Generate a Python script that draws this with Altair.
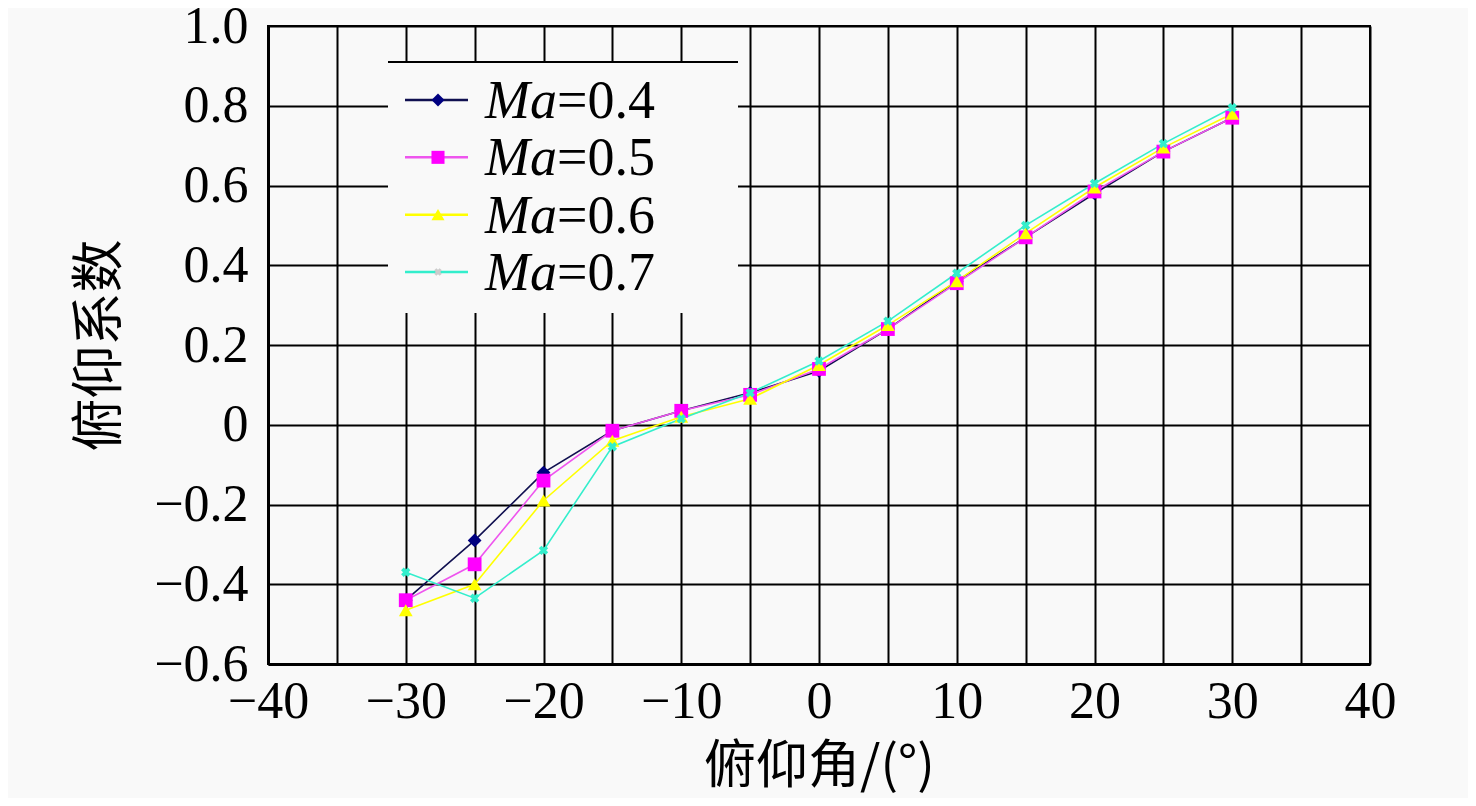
#!/usr/bin/env python3
"""Pitch coefficient vs pitch angle for four Mach numbers."""
import altair as alt
import pandas as pd

OUTPUT_FILE = 'out.html'
SERIF = 'Liberation Serif'
CJK = 'Noto Sans CJK SC'
BG = '#f9f9f9'

angles = [-30, -25, -20, -15, -10, -5, 0, 5, 10, 15, 20, 25, 30]
series = ['0.4', '0.5', '0.6', '0.7']
values = {
    '0.4': [-0.44, -0.29, -0.12, -0.015, 0.035, 0.08, 0.135, 0.24, 0.36, 0.47, 0.58, 0.685, 0.77],
    '0.5': [-0.44, -0.35, -0.14, -0.015, 0.035, 0.075, 0.14, 0.24, 0.355, 0.47, 0.585, 0.685, 0.77],
    '0.6': [-0.465, -0.40, -0.19, -0.04, 0.02, 0.065, 0.15, 0.25, 0.36, 0.48, 0.595, 0.695, 0.78],
    '0.7': [-0.37, -0.435, -0.315, -0.055, 0.015, 0.08, 0.16, 0.26, 0.38, 0.50, 0.605, 0.705, 0.795],
}
line_colors = ['#101050', '#ee55ee', '#ffff00', '#33eecc']
marker_colors = ['#000080', '#ff00ff', '#ffff00', '#33eecc']
marker_shapes = ['diamond', 'square', 'triangle-up', 'cross']

x_ticks = list(range(-40, 41, 5))
y_ticks = [-0.6, -0.4, -0.2, 0.0, 0.2, 0.4, 0.6, 0.8, 1.0]

df = pd.DataFrame([
    {'angle': a, 'coef': v, 'series': s}
    for s in series for a, v in zip(angles, values[s])
])
legend_df = pd.DataFrame({'series': series, 'label': ['=' + s for s in series]})

x_enc = alt.X(
    'angle:Q',
    scale=alt.Scale(domain=[-40, 40], nice=False),
    axis=alt.Axis(
        values=x_ticks, ticks=False, grid=True,
        labelExpr="datum.value % 10 === 0 ? replace(format(datum.value, 'd'), '-', '\u2212') : ''",
        labelFont=SERIF, labelFontSize=52, labelColor='black', labelPadding=12,
        labelFlush=False, labelOverlap=False,
        domainColor='black', domainWidth=3,
        gridColor='black', gridWidth=2,
        title='俯仰角/(°)', titleFont=CJK, titleFontSize=52, titleFontWeight='normal',
        titleColor='black', titleBaseline='middle', titleY=102,
    ),
)
y_enc = alt.Y(
    'coef:Q',
    scale=alt.Scale(domain=[-0.6, 1.0], nice=False, zero=False),
    axis=alt.Axis(
        values=y_ticks, ticks=False, grid=True,
        labelExpr="abs(datum.value) < 1e-9 ? '0' : replace(format(datum.value, '.1f'), '-', '\u2212')",
        labelFont=SERIF, labelFontSize=52, labelColor='black', labelPadding=20,
        labelFlush=False, labelOverlap=False, labelBaseline='middle',
        domainColor='black', domainWidth=3,
        gridColor='black', gridWidth=2,
        title='俯仰系数', titleFont=CJK, titleFontSize=53, titleFontWeight='normal',
        titleColor='black', titleBaseline='middle', titleX=-168, titleY=319,
    ),
)

base = alt.Chart(df)

lines = base.mark_line(strokeWidth=1.6).encode(
    x=x_enc, y=y_enc,
    stroke=alt.Stroke('series:N', scale=alt.Scale(domain=series, range=line_colors), legend=None),
    order='angle:Q',
)

points = base.transform_filter(alt.datum.series != '0.7').mark_point(
    filled=True, opacity=1, size=190
).encode(
    x='angle:Q', y='coef:Q',
    fill=alt.Fill('series:N', scale=alt.Scale(domain=series, range=marker_colors), legend=None),
    shape=alt.Shape('series:N', scale=alt.Scale(domain=series, range=marker_shapes), legend=None),
)

crosses = base.transform_filter(alt.datum.series == '0.7').mark_point(
    shape='cross', angle=45, filled=True, opacity=1, size=90, color='#33eecc'
).encode(x='angle:Q', y='coef:Q')

data_layer = alt.layer(lines, points, crosses)

# legend box drawn inside the plot
one = pd.DataFrame({'k': [0]})
legend_box = alt.Chart(one).mark_rect(fill=BG).encode(
    x=alt.value(120), x2=alt.value(470), y=alt.value(36), y2=alt.value(287)
)
legend_top = alt.Chart(one).mark_rule(color='black', strokeWidth=2).encode(
    x=alt.value(120), x2=alt.value(470), y=alt.value(36)
)

leg_y = alt.Y('series:N', scale=alt.Scale(type='point', domain=series, range=[74, 246], padding=0), axis=None)
leg = alt.Chart(legend_df)
leg_lines = leg.mark_rule(strokeWidth=2.5).encode(
    x=alt.value(137), x2=alt.value(200), y=leg_y,
    stroke=alt.Stroke('series:N', scale=alt.Scale(domain=series, range=line_colors), legend=None),
)
leg_points = leg.transform_filter(alt.datum.series != '0.7').mark_point(
    filled=True, opacity=1, size=170
).encode(
    x=alt.value(170), y=leg_y,
    fill=alt.Fill('series:N', scale=alt.Scale(domain=series, range=marker_colors), legend=None),
    shape=alt.Shape('series:N', scale=alt.Scale(domain=series, range=marker_shapes), legend=None),
)
leg_cross = leg.transform_filter(alt.datum.series == '0.7').mark_point(
    shape='cross', angle=45, filled=True, opacity=1, size=60, color='#cccccc'
).encode(x=alt.value(170), y=leg_y)
leg_ma = leg.mark_text(
    text='Ma', font=SERIF, fontSize=54, fontStyle='italic', align='right', baseline='middle',
    color='black', dy=2
).encode(x=alt.value(289), y=leg_y)
leg_val = leg.mark_text(
    font=SERIF, fontSize=54, align='left', baseline='middle', color='black', dy=2
).encode(x=alt.value(289), y=leg_y, text='label:N')

legend_layer = alt.layer(legend_box, legend_top, leg_lines, leg_points, leg_cross, leg_ma, leg_val)

chart = alt.layer(data_layer, legend_layer).resolve_scale(
    y='independent'
).properties(
    width=1102, height=638,
    autosize=alt.AutoSizeParams(type='none'),
    padding={'left': 260, 'top': 18, 'right': 98, 'bottom': 134},
    background=BG,
).configure_view(
    stroke='black', strokeWidth=2, fill=BG
)

chart.save(OUTPUT_FILE, embed_options={'renderer': 'svg', 'actions': False})
